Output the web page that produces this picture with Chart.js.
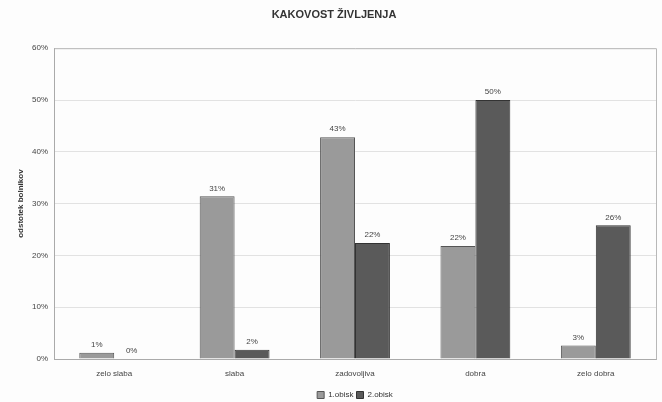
<!DOCTYPE html>
<html>
<head>
<meta charset="utf-8">
<script src="https://cdn.jsdelivr.net/npm/chart.js@4/dist/chart.umd.min.js"></script>
<style>
  html, body { margin: 0; padding: 0; background: #fdfdfd; }
  #wrap { width: 662px; height: 402px; }
</style>
</head>
<body>
<div id="wrap"><canvas id="c" width="662" height="402"></canvas></div>
<script>
const categories = ['zelo slaba', 'slaba', 'zadovoljiva', 'dobra', 'zelo dobra'];
const seriesNames = ['1.obisk', '2.obisk'];
const visit1 = [1.2, 31.4, 42.8, 21.8, 2.6];
const visit2 = [0, 1.8, 22.4, 50.0, 25.8];
const yTicks = [0, 10, 20, 30, 40, 50, 60];

const FONT = "'Liberation Sans', Arial, sans-serif";

// value labels above each bar, rounded to whole percent
const valueLabels = {
  id: 'valueLabels',
  afterDatasetsDraw(chart) {
    const ctx = chart.ctx;
    ctx.save();
    ctx.font = '8px ' + FONT;
    ctx.fillStyle = '#444';
    ctx.textAlign = 'center';
    ctx.textBaseline = 'bottom';
    chart.data.datasets.forEach((ds, i) => {
      const meta = chart.getDatasetMeta(i);
      meta.data.forEach((bar, j) => {
        ctx.fillText(Math.round(ds.data[j]) + '%', bar.x, bar.y - 4);
      });
    });
    ctx.restore();
  }
};

// frame around the plot area
const plotFrame = {
  id: 'plotFrame',
  beforeDatasetsDraw(chart) {
    const a = chart.chartArea;
    const ctx = chart.ctx;
    ctx.save();
    ctx.strokeStyle = '#b8b8b8';
    ctx.lineWidth = 1;
    ctx.beginPath();
    ctx.moveTo(a.left + 0.5, a.top + 0.5);
    ctx.lineTo(a.right + 0.5, a.top + 0.5);
    ctx.lineTo(a.right + 0.5, a.bottom + 0.5);
    ctx.stroke();
    ctx.restore();
  }
};

const bg = {
  id: 'bg',
  beforeDraw(chart) {
    const ctx = chart.ctx;
    ctx.save();
    ctx.fillStyle = '#fdfdfd';
    ctx.fillRect(0, 0, chart.width, chart.height);
    ctx.restore();
  }
};

new Chart(document.getElementById('c'), {
  type: 'bar',
  data: {
    labels: categories,
    datasets: [
      { label: seriesNames[0], data: visit1, backgroundColor: '#9a9a9a', borderColor: '#555', borderWidth: 1 },
      { label: seriesNames[1], data: visit2, backgroundColor: '#5a5a5a', borderColor: '#333', borderWidth: 1 }
    ]
  },
  options: {
    responsive: false,
    animation: false,
    devicePixelRatio: 1,
    layout: { padding: { left: 12, right: 6, top: 8, bottom: -7 } },
    datasets: { bar: { categoryPercentage: 0.58, barPercentage: 1.0 } },
    plugins: {
      title: {
        display: true,
        text: 'KAKOVOST ŽIVLJENJA',
        color: '#333',
        font: { family: FONT, size: 11, weight: 'bold' },
        padding: { top: 0, bottom: 27 }
      },
      legend: {
        position: 'bottom',
        fullSize: false,
        labels: {
          color: '#333',
          font: { family: FONT, size: 8 },
          boxWidth: 7,
          boxHeight: 7,
          padding: 3
        }
      },
      tooltip: { enabled: false }
    },
    scales: {
      x: {
        afterFit(scale) { scale.height = 29; },
        grid: { display: false, drawTicks: false },
        border: { color: '#aaa' },
        ticks: { color: '#444', font: { family: FONT, size: 8 }, padding: 10 }
      },
      y: {
        min: 0,
        max: 60,
        afterBuildTicks(scale) { scale.ticks = yTicks.map(v => ({ value: v })); },
        afterFit(scale) { scale.width = 42; },
        grid: { color: '#e2e2e2', drawTicks: false },
        border: { color: '#aaa' },
        ticks: {
          color: '#444',
          font: { family: FONT, size: 8 },
          padding: 6,
          callback: v => v + '%'
        },
        title: {
          display: true,
          text: 'odstotek bolnikov',
          color: '#333',
          font: { family: FONT, size: 8, weight: 'bold' },
          padding: { top: 4, bottom: 0 }
        }
      }
    }
  },
  plugins: [bg, plotFrame, valueLabels]
});
</script>
</body>
</html>
